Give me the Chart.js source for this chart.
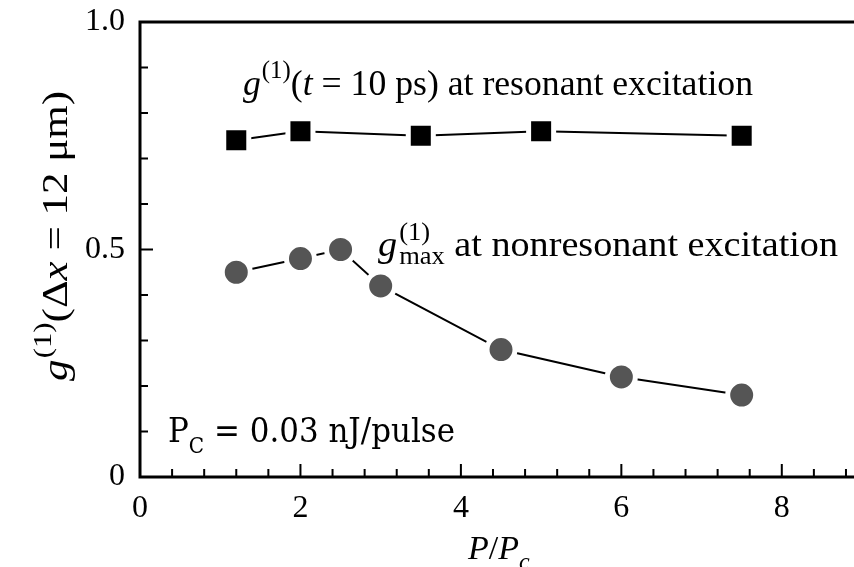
<!DOCTYPE html>
<html>
<head>
<meta charset="utf-8">
<script src="https://cdn.jsdelivr.net/npm/chart.js@4.4.0/dist/chart.umd.min.js"></script>
<style>
  body { margin: 0; background: #fff; }
  #wrap { width: 854px; height: 567px; }
</style>
</head>
<body>
<div id="wrap"><canvas id="myChart"></canvas></div>
<script>
// data
const resX = [1.2, 2, 3.5, 5, 7.5];
const resY = [0.74, 0.76, 0.75, 0.76, 0.75];
const nonresX = [1.2, 2, 2.5, 3, 4.5, 6, 7.5];
const nonresY = [0.45, 0.48, 0.50, 0.42, 0.28, 0.22, 0.18];
const xTicks = [0, 2, 4, 6, 8];
const yTicks = [0, 0.5, 1.0];

const serif = '"Liberation Serif", "Times New Roman", serif';
const mathFont = '"DejaVu Serif", serif';

function toPoints(xs, ys) {
  return xs.map((x, i) => ({ x: x, y: ys[i] }));
}

function setFont(ctx, r) {
  ctx.font = (r.italic ? "italic " : "") + r.size + "px " + (r.family || serif);
}

// width of a row of text pieces
function runsWidth(ctx, runs) {
  let w = 0;
  runs.forEach(r => {
    setFont(ctx, r);
    if (!r.stay) w += ctx.measureText(r.text).width + (r.gap || 0);
  });
  return w;
}

// draws a row of text pieces (for super/subscripts)
function drawRuns(ctx, x, y, runs) {
  runs.forEach(r => {
    setFont(ctx, r);
    ctx.fillText(r.text, x, y + (r.dy || 0));
    if (!r.stay) x += ctx.measureText(r.text).width + (r.gap || 0);
  });
}

// draw runs squeezed/stretched to a given width
function drawRunsWidth(ctx, x, y, runs, width) {
  const sx = width / runsWidth(ctx, runs);
  ctx.save();
  ctx.translate(x, y);
  ctx.scale(sx, 1);
  drawRuns(ctx, 0, 0, runs);
  ctx.restore();
}

const framePlugin = {
  id: "frame",
  afterDatasetsDraw(chart) {
    const ctx = chart.ctx;
    const a = chart.chartArea;
    const X = chart.scales.x, Y = chart.scales.y;
    ctx.save();
    ctx.strokeStyle = "#000";
    ctx.fillStyle = "#000";

    // axis frame (left, top, bottom)
    ctx.lineWidth = 3;
    ctx.beginPath();
    ctx.moveTo(a.right + 2, a.top);
    ctx.lineTo(a.left, a.top);
    ctx.lineTo(a.left, a.bottom);
    ctx.lineTo(a.right + 2, a.bottom);
    ctx.stroke();

    // inward ticks
    ctx.lineWidth = 2;
    ctx.beginPath();
    for (let i = 1; i * 0.4 < X.max; i++) {
      const major = i % 5 === 0;
      const px = X.getPixelForValue(i * 0.4);
      ctx.moveTo(px, a.bottom);
      ctx.lineTo(px, a.bottom - (major ? 13 : 8));
    }
    for (let i = 1; i < 10; i++) {
      const py = Y.getPixelForValue(i / 10);
      ctx.moveTo(a.left, py);
      ctx.lineTo(a.left + (i === 5 ? 13 : 8), py);
    }
    ctx.stroke();

    ctx.textBaseline = "alphabetic";
    ctx.textAlign = "left";

    // annotation: resonant
    drawRunsWidth(ctx, 243, 95, [
      { text: "g", italic: true, size: 36, gap: 1 },
      { text: "(1)", size: 25, dy: -17 },
      { text: "(", size: 36 },
      { text: "t", italic: true, size: 36 },
      { text: " = 10 ps) at resonant excitation", size: 36 }
    ], 510);

    // annotation: nonresonant
    drawRunsWidth(ctx, 378, 256, [
      { text: "g", italic: true, size: 36, gap: 2 },
      { text: "(1)", size: 25, dy: -16, stay: true },
      { text: "max", size: 25, dy: 8 },
      { text: " at nonresonant excitation", size: 36 }
    ], 460);

    // P_C label
    drawRunsWidth(ctx, 168, 442, [
      { text: "P", size: 34, family: mathFont },
      { text: "C", size: 22, dy: 11, family: mathFont },
      { text: " = 0.03 nJ/pulse", size: 34, family: mathFont }
    ], 287);

    // x title
    drawRuns(ctx, 468, 559, [
      { text: "P", italic: true, size: 34 },
      { text: "/", size: 34 },
      { text: "P", italic: true, size: 34 },
      { text: "c", italic: true, size: 24, dy: 10 }
    ]);

    // y title (rotated)
    ctx.translate(67, 381);
    ctx.rotate(-Math.PI / 2);
    drawRunsWidth(ctx, 0, 0, [
      { text: "g", italic: true, size: 35, gap: 1 },
      { text: "(1)", size: 25, dy: -16 },
      { text: "(\u0394", size: 35 },
      { text: "x", italic: true, size: 35 },
      { text: " = 12 \u03bcm)", size: 35 }
    ], 290);
    ctx.restore();
  }
};

new Chart("myChart", {
  type: "scatter",
  data: {
    datasets: [
      {
        label: "resonant",
        data: toPoints(resX, resY),
        showLine: true,
        borderColor: "#000",
        borderWidth: 2,
        pointStyle: "rect",
        pointRadius: 17.7,
        pointBackgroundColor: "#000",
        pointBorderColor: "#fff",
        pointBorderWidth: 5
      },
      {
        label: "nonresonant",
        data: toPoints(nonresX, nonresY),
        showLine: true,
        borderColor: "#000",
        borderWidth: 2,
        pointStyle: "circle",
        pointRadius: 14,
        pointBackgroundColor: "#555",
        pointBorderColor: "#fff",
        pointBorderWidth: 5
      }
    ]
  },
  plugins: [framePlugin],
  options: {
    responsive: true,
    maintainAspectRatio: false,
    animation: false,
    layout: { autoPadding: false, padding: { top: 22, right: 0, left: 0, bottom: 0 } },
    plugins: {
      legend: { display: false },
      tooltip: { enabled: false }
    },
    scales: {
      x: {
        type: "linear",
        min: 0,
        max: 8.9,
        afterFit: s => { s.height = 90; s.paddingLeft = 0; s.paddingRight = 0; },
        afterBuildTicks: s => { s.ticks = xTicks.map(v => ({ value: v })); },
        grid: { display: false, drawTicks: false },
        border: { display: false },
        ticks: {
          color: "#000",
          padding: 12,
          font: { family: serif, size: 32 },
          callback: v => String(v)
        }
      },
      y: {
        type: "linear",
        min: 0,
        max: 1,
        afterFit: s => { s.width = 140; s.paddingTop = 0; s.paddingBottom = 0; },
        afterBuildTicks: s => { s.ticks = yTicks.map(v => ({ value: v })); },
        grid: { display: false, drawTicks: false },
        border: { display: false },
        ticks: {
          color: "#000",
          padding: 15,
          font: { family: serif, size: 32 },
          callback: v => (v === 0 ? "0" : v.toFixed(1))
        }
      }
    }
  }
});
</script>
</body>
</html>
